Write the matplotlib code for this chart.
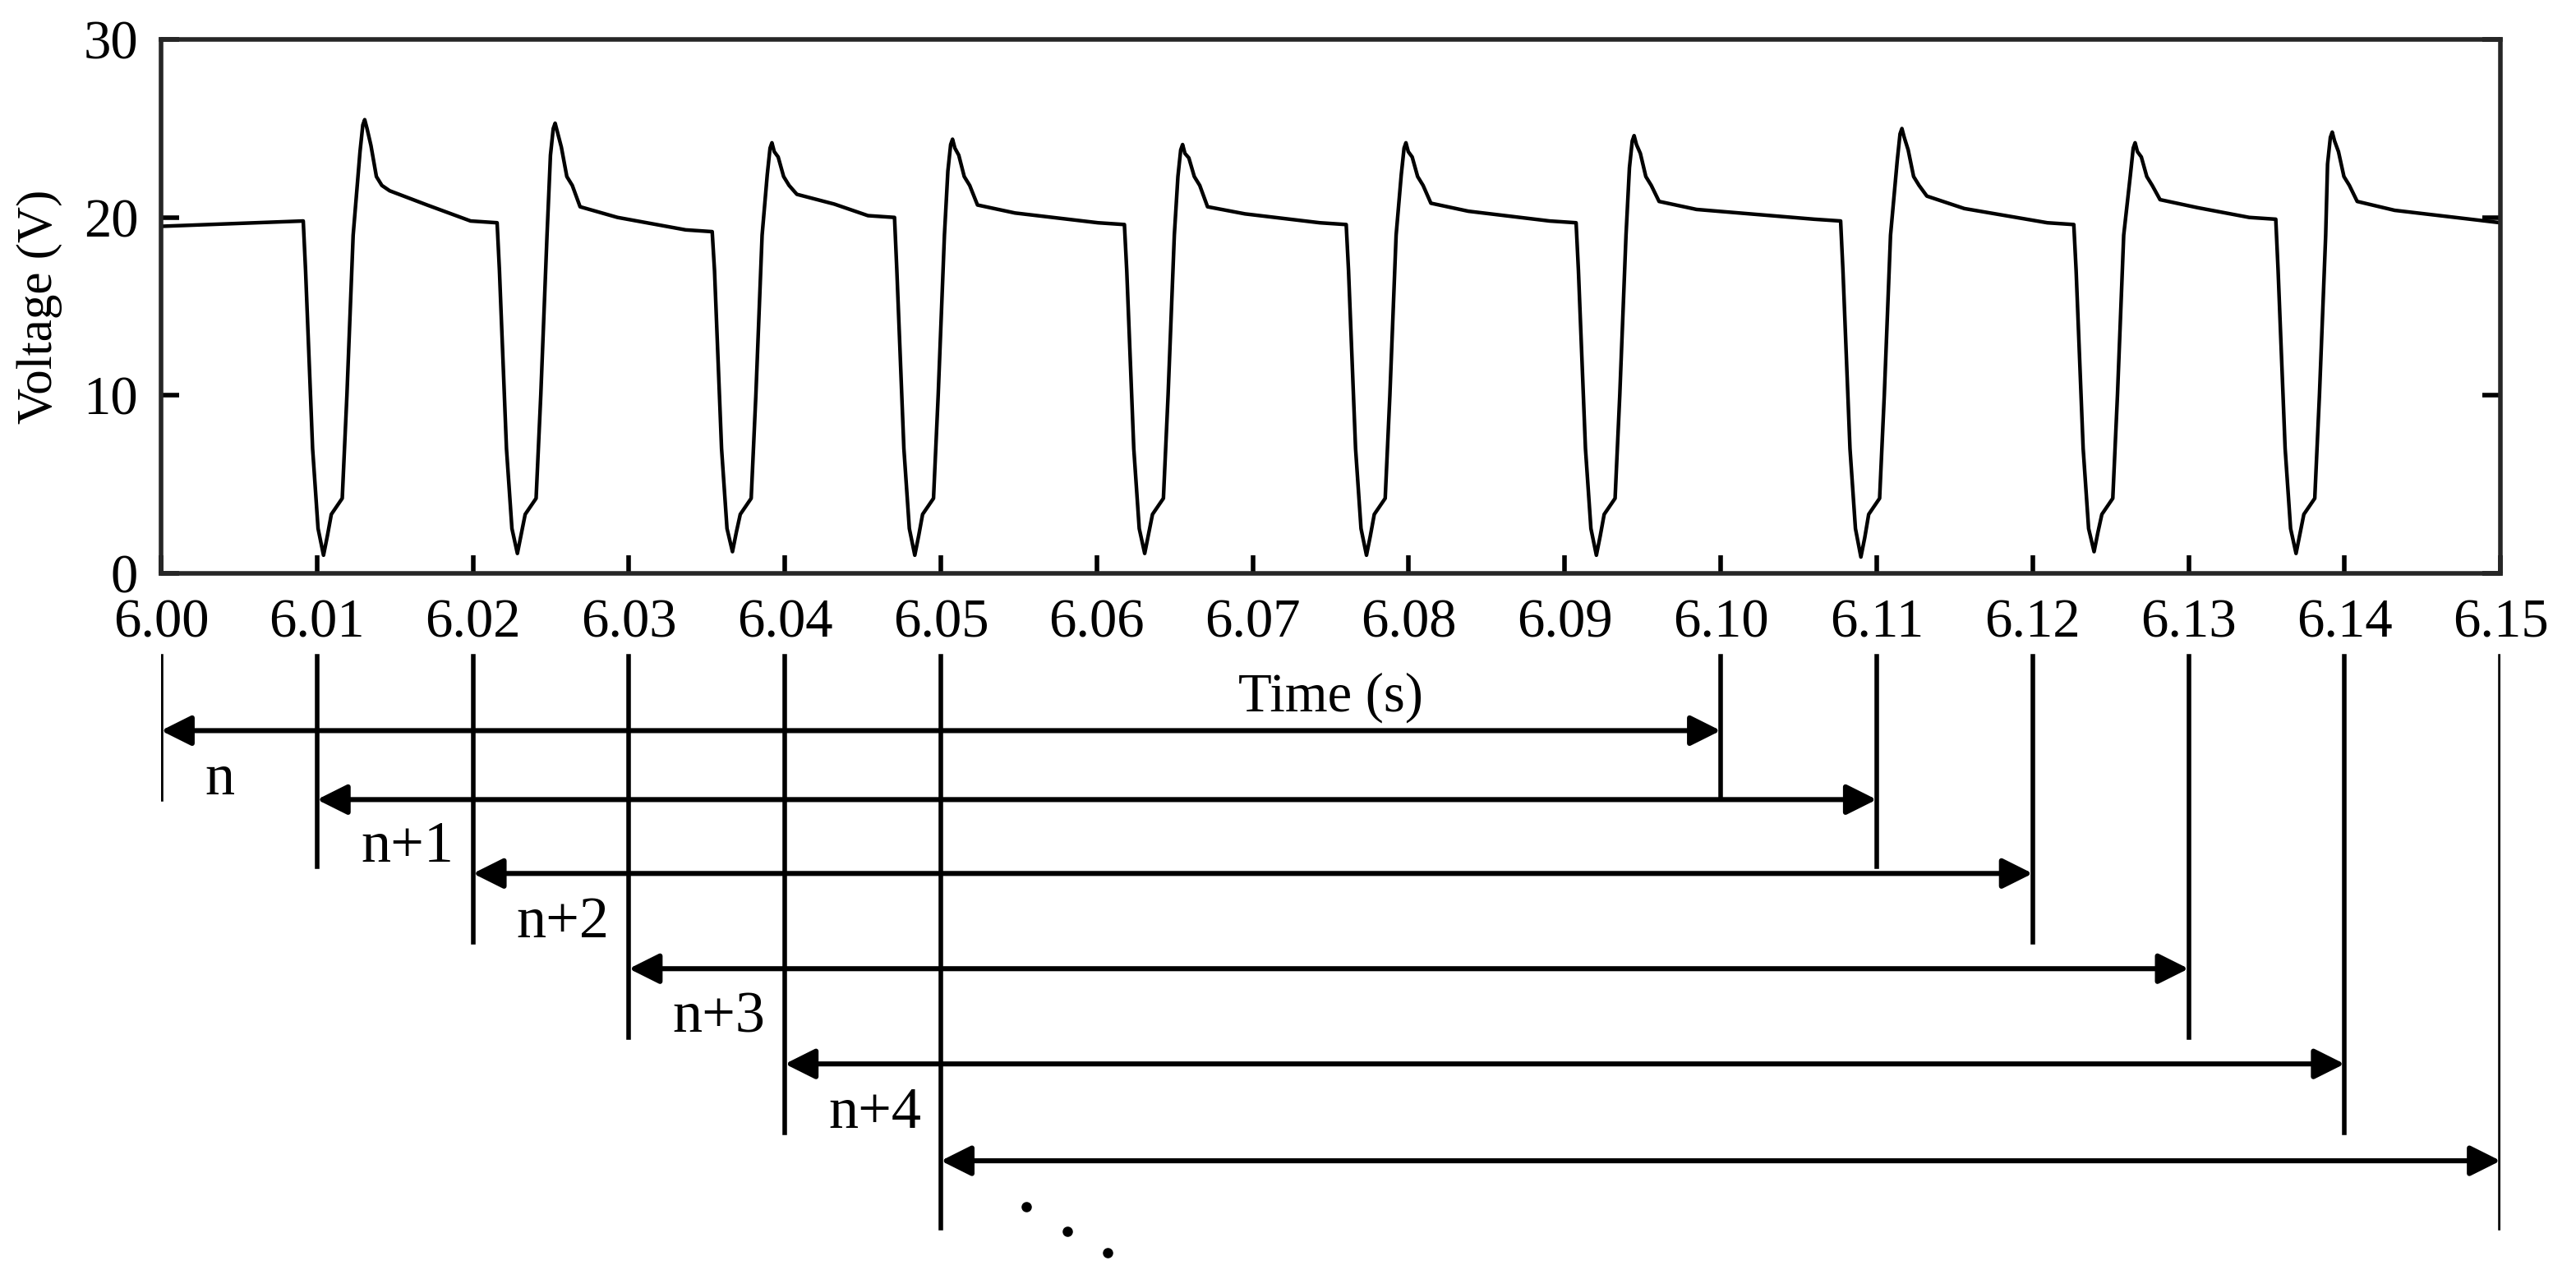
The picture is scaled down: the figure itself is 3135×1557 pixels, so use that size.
import numpy as np
import matplotlib
matplotlib.use("Agg")
import matplotlib.pyplot as plt

plt.rcParams['font.family'] = ['Liberation Serif', 'DejaVu Serif']

# ---- data (time in ms after 6 s) ----
t_min_ms = [10.42, 22.85, 36.64, 48.33, 63.07, 77.29, 92.03, 108.99, 123.94, 136.89]
v_min = [1.0, 1.1, 1.2, 1.0, 1.1, 1.0, 1.0, 0.9, 1.2, 1.1]
t_peak_ms = [13.06, 25.27, 39.17, 50.75, 65.50, 79.82, 94.45, 111.62, 126.57, 139.21]
v_peak = [25.5, 25.3, 24.2, 24.4, 24.1, 24.2, 24.6, 25.0, 24.2, 24.8]
v_pre = [19.8, 19.7, 19.2, 20.0, 19.6, 19.6, 19.7, 19.8, 19.6, 19.9]
v_plateau = [21.5, 20.6, 21.3, 20.7, 20.6, 20.8, 20.9, 21.2, 21.0, 20.9]
v_start, v_end = 19.5, 19.7

xticks = [6.00, 6.01, 6.02, 6.03, 6.04, 6.05, 6.06, 6.07, 6.08, 6.09, 6.10,
          6.11, 6.12, 6.13, 6.14, 6.15]
yticks = [0, 10, 20, 30]
win_start = [6.00, 6.01, 6.02, 6.03, 6.04, 6.05]
win_end = [6.10, 6.11, 6.12, 6.13, 6.14, 6.15]
win_labels = ['n', 'n+1', 'n+2', 'n+3', 'n+4']

# ---- build waveform path from pulse features ----
fall_off = [-1.3, -1.15, -0.7, -0.35, 0.0, 0.25, 0.5, 1.2, 1.5, 1.9]
t_pts, v_pts = [0.0], [v_start]
for i in range(len(t_min_ms)):
    tm, tp = t_min_ms[i], t_peak_ms[i]
    if i > 0:
        t_pts.append(tm - 3.0); v_pts.append(v_pre[i] + 0.1)
    fv = [v_pre[i], 17, 7, 2.5, v_min[i], v_min[i] + 1.1, 3.3, 4.2, 10, 19]
    for o, v in zip(fall_off, fv):
        t_pts.append(tm + o); v_pts.append(v)
    t_pts += [tp - 0.3, tp - 0.12, tp, tp + 0.15, tp + 0.4, tp + 0.75, tp + 1.1, tp + 1.6]
    v_pts += [v_peak[i] - 1.8, v_peak[i] - 0.3, v_peak[i], v_peak[i] - 0.5,
              (v_peak[i] + 22.6) / 2, 22.3, 21.8, v_plateau[i]]
    nxt = v_pre[i + 1] if i + 1 < len(v_pre) else v_end
    t_pts.append(tp + 4.0); v_pts.append((v_plateau[i] + nxt) / 2 + 0.1)
t_pts.append(150.0); v_pts.append(v_end)
t = 6.0 + np.array(t_pts) / 1000.0

W, H = 3135, 1557
fig = plt.figure(figsize=(W / 200, H / 200), dpi=200)
L, R = 0.0625, 0.9707
ax = fig.add_axes([L, 0.552, R - L, 0.969 - 0.552])
ax.plot(t, v_pts, color='black', lw=1.6)
ax.set_xlim(6.0, 6.15)
ax.set_ylim(0, 30)
ax.set_xticks(xticks)
ax.set_xticklabels([f"{x:.2f}" for x in xticks])
ax.set_yticks(yticks)
ax.tick_params(direction='in', length=8, width=2, labelsize=24, right=True)
ax.tick_params(axis='x', pad=11)
ax.tick_params(axis='y', pad=10)
for s in ax.spines.values():
    s.set_linewidth(2)
    s.set_color('#262626')
ax.set_ylabel('Voltage (V)', fontsize=22)
ax.yaxis.set_label_coords(-0.042, 0.5)

# ---- annotation layer, shares x-scale ----
a2 = fig.add_axes([L, 0, R - L, 1])
a2.set_xlim(6.0, 6.15)
a2.set_ylim(779, 0)
a2.axis('off')
a2.text(6.075, 425, 'Time (s)', ha='center', va='center', fontsize=24)
top = 400
rows = [445, 487, 532, 590, 648, 707]
bottoms = [487, 528, 574, 632, 690, 748]
for i in range(6):
    a2.plot([win_start[i]] * 2, [top, bottoms[i]], color='black', lw=2)
    a2.plot([win_end[i]] * 2, [top, bottoms[i]], color='black', lw=2)
    a2.annotate('', xy=(win_start[i], rows[i]), xytext=(win_end[i], rows[i]),
                arrowprops=dict(arrowstyle='<|-|>', color='black', lw=2.2,
                                mutation_scale=28, shrinkA=0, shrinkB=0))
for i, lab in enumerate(win_labels):
    a2.text(win_start[i] + 0.0028, bottoms[i] - 12, lab, ha='left', va='center', fontsize=26)
for dx, dy in [(0.0, 735), (0.0026, 750), (0.0052, 763)]:
    a2.plot(6.0555 + dx, dy, 'o', color='black', ms=3.5)

fig.savefig('out.png', dpi=200)
